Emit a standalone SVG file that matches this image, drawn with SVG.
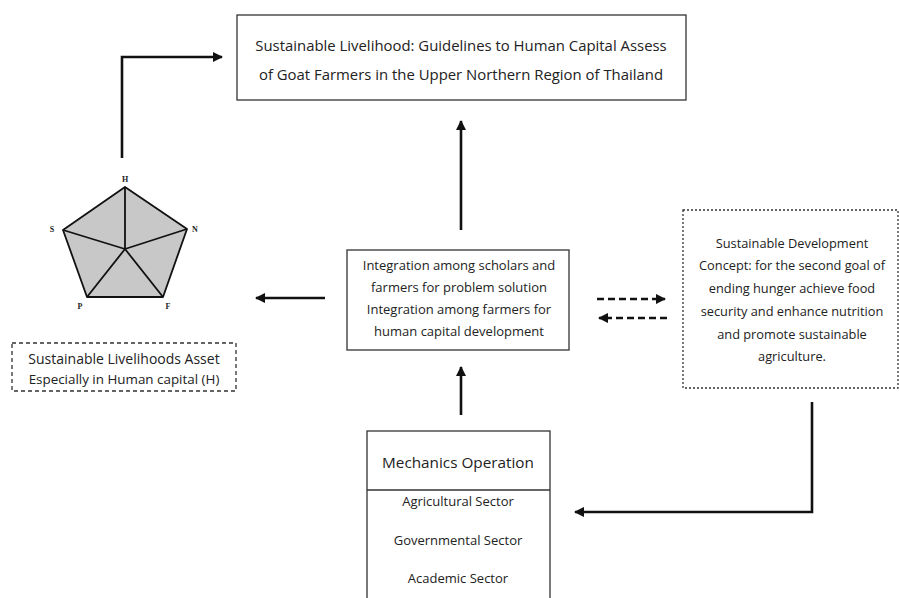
<svg xmlns="http://www.w3.org/2000/svg" width="899" height="598" viewBox="0 0 899 598">
<style>
text{font-family:"Open Sans","Lato",sans-serif;fill:#222;text-anchor:middle}
.t{font-size:13px}
.box{fill:#fff;stroke:#333;stroke-width:1.3}
.dbox{fill:#fff;stroke:#333;stroke-width:1.3;stroke-dasharray:4 3}
.sbox{fill:#fff;stroke:#333;stroke-width:1.3;stroke-dasharray:2 2}
.c{fill:none;stroke:#111;stroke-width:2.6}
.d{fill:none;stroke:#111;stroke-width:2.6;stroke-dasharray:7 4}
.lbl{font-family:"Liberation Serif",serif;font-size:8px;font-weight:bold}
</style>
<defs>
<marker id="ah" viewBox="0 0 10 10" refX="9" refY="5" markerWidth="4" markerHeight="4" orient="auto" markerUnits="strokeWidth">
<path d="M0,0 L10,5 L0,10 z" fill="#111"/>
</marker>
</defs>
<g id="connectors">
<polyline class="c" points="122,158 122,57 222,57" marker-end="url(#ah)"/>
<line class="c" x1="461" y1="230" x2="461" y2="121" marker-end="url(#ah)"/>
<line class="c" x1="461" y1="415" x2="461" y2="367" marker-end="url(#ah)"/>
<line class="c" x1="325" y1="298" x2="256" y2="298" marker-end="url(#ah)"/>
<line class="d" x1="597" y1="299" x2="665" y2="299" marker-end="url(#ah)"/>
<line class="d" x1="667" y1="318" x2="599" y2="318" marker-end="url(#ah)"/>
<polyline class="c" points="812,402 812,512 575,512" marker-end="url(#ah)"/>
</g>
<g id="top">
<rect class="box" x="237" y="15" width="449" height="85"/>
<text x="461" y="51" font-size="14.9">Sustainable Livelihood: Guidelines to Human Capital Assess</text>
<text x="461" y="80" font-size="14.9">of Goat Farmers in the Upper Northern Region of Thailand</text>
</g>
<g id="pentagon">
<polygon points="125,187 187,229 163,297 87,297 63,230" fill="#c8c8c8" stroke="#111" stroke-width="1.8" stroke-linejoin="round"/>
<path d="M125,249 L125,187 M125,249 L187,229 M125,249 L163,297 M125,249 L87,297 M125,249 L63,230" stroke="#111" stroke-width="1.8" fill="none"/>
<text class="lbl" x="125" y="182">H</text>
<text class="lbl" x="195" y="232">N</text>
<text class="lbl" x="168" y="309">F</text>
<text class="lbl" x="80" y="309">P</text>
<text class="lbl" x="52" y="232">S</text>
</g>
<g id="assets">
<rect class="dbox" x="12" y="343" width="224" height="48"/>
<text x="124" y="364" font-size="14">Sustainable Livelihoods Asset</text>
<text x="124" y="384" font-size="13.4">Especially in Human capital (H)</text>
</g>
<g id="integration">
<rect class="box" x="347" y="250" width="222" height="100"/>
<text class="t" x="459" y="270">Integration among scholars and</text>
<text class="t" x="459" y="292">farmers for problem solution</text>
<text class="t" x="459" y="314">Integration among farmers for</text>
<text class="t" x="459" y="336">human capital development</text>
</g>
<g id="sdg">
<rect class="sbox" x="683" y="210" width="215" height="178"/>
<text x="792" y="248" font-size="12.8">Sustainable Development</text>
<text x="792" y="270" font-size="12.8">Concept: for the second goal of</text>
<text x="792" y="293" font-size="12.8">ending hunger achieve food</text>
<text x="792" y="316" font-size="12.8">security and enhance nutrition</text>
<text x="792" y="339" font-size="12.8">and promote sustainable</text>
<text x="792" y="361" font-size="12.8">agriculture.</text>
</g>
<g id="mechanics">
<rect class="box" x="367" y="431" width="183" height="180"/>
<line x1="367" y1="490" x2="550" y2="490" stroke="#333" stroke-width="1.3"/>
<text x="458" y="468" font-size="15.3">Mechanics Operation</text>
<text class="t" x="458" y="506">Agricultural Sector</text>
<text class="t" x="458" y="545">Governmental Sector</text>
<text class="t" x="458" y="583">Academic Sector</text>
</g>
</svg>
